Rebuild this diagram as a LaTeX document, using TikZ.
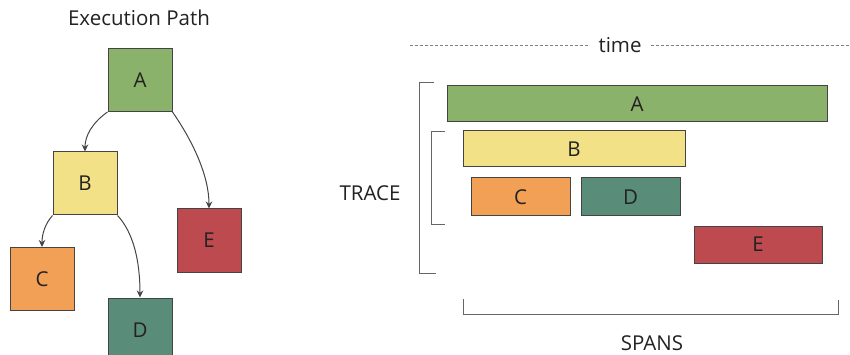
\documentclass[tikz,border=0pt]{standalone}
\usepackage{fontspec}
\setmainfont{Open Sans}
\usetikzlibrary{arrows.meta}
\definecolor{cA}{HTML}{8BB26A}
\definecolor{cB}{HTML}{F2E186}
\definecolor{cC}{HTML}{F2A055}
\definecolor{cD}{HTML}{5A8C7A}
\definecolor{cE}{HTML}{BC4A4F}
\definecolor{edge}{HTML}{444444}
\definecolor{txt}{HTML}{222222}
\tikzset{
  box/.style={draw=edge, line width=1pt, inner sep=0pt, text=txt, font=\fontsize{20.5}{20.5}\selectfont},
  sq/.style={box, minimum width=64pt, minimum height=63pt},
  flow/.style={draw=edge, line width=1pt, -{Stealth[length=7pt,width=6.5pt]}},
  brace/.style={draw=gray!80!black, line width=0.9pt},
  label/.style={text=txt, font=\fontsize{20.5}{20.5}\selectfont, inner sep=0pt},
}
\begin{document}
\begin{tikzpicture}[x=1pt, y=-1pt]
\clip (0,0) rectangle (850,355);
\useasboundingbox (0,0) rectangle (850,355);

% execution tree
\node[label] (title) at (139,18) {Execution Path};
\node[sq, fill=cA] (A) at (140,80) {A};
\node[sq, fill=cB] (B) at (85,183.5) {B};
\node[sq, fill=cE] (E) at (209,240.5) {E};
\node[sq, fill=cC] (C) at (42,279) {C};
\node[sq, fill=cD, minimum height=64pt] (D) at (140,330) {D};

\draw[flow] (A.south west) .. controls (92,123) and (85,136) .. (B.north);
\draw[flow] (A.south east) .. controls (192,140) and (209,175) .. (E.north);
\draw[flow] (B.south west) .. controls (45,224) and (42,234) .. (C.north);
\draw[flow] (B.south east) .. controls (133,232) and (140,260) .. (D.north);

% timeline of spans
\node[label] (time) at (620,45) {time};
\coordinate (tL) at (410,45);
\coordinate (tR) at (850,45);
\draw[gray, line width=0.7pt, dash pattern=on 3pt off 2pt] (tL) -- ([xshift=-9pt]time.west);
\draw[gray, line width=0.7pt, dash pattern=on 3pt off 2pt] ([xshift=9pt]time.east) -- (tR);

\node[box, fill=cA, minimum width=380pt, minimum height=36pt] (sA) at (637,104) {A};
\node[box, fill=cB, minimum width=222pt, minimum height=36pt] (sB) at (574,149) {B};
\node[box, fill=cC, minimum width=99pt, minimum height=38pt] (sC) at (520.5,197) {C};
\node[box, fill=cD, minimum width=99pt, minimum height=38pt] (sD) at (630.5,197) {D};
\node[box, fill=cE, minimum width=128pt, minimum height=37pt] (sE) at (758,244.5) {E};

% trace brackets
\draw[brace] (434,82) -- (419,82) -- (419,273) -- (436,273);
\draw[brace] (445,131) -- (431,131) -- (431,224) -- (445,224);
\node[label] (trace) at (370,193) {TRACE};

% spans bracket
\draw[brace] (463,299) -- (463,314) -- (838,314) -- (838,300);
\node[label] (spans) at (652,343) {SPANS};
\end{tikzpicture}
\end{document}
